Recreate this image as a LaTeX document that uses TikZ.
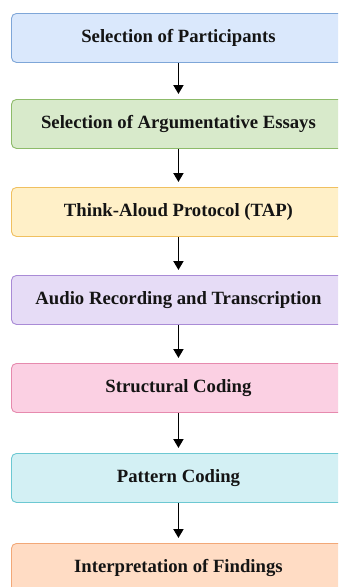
\documentclass[tikz,border=0pt]{standalone}
\usepackage{fontspec}
\setmainfont{Liberation Serif}
\usetikzlibrary{arrows.meta}
\definecolor{f1}{HTML}{DAE8FC}\definecolor{d1}{HTML}{7EA6D8}
\definecolor{f2}{HTML}{D8EACB}\definecolor{d2}{HTML}{8DBB6A}
\definecolor{f3}{HTML}{FFF0C8}\definecolor{d3}{HTML}{F0C060}
\definecolor{f4}{HTML}{E6DCF6}\definecolor{d4}{HTML}{A98BD6}
\definecolor{f5}{HTML}{FBD0E3}\definecolor{d5}{HTML}{E68AAE}
\definecolor{f6}{HTML}{D3F0F4}\definecolor{d6}{HTML}{6CC8D2}
\definecolor{f7}{HTML}{FFDCC4}\definecolor{d7}{HTML}{F2A878}
\tikzset{
  stepbox/.style={draw, line width=0.9pt, rounded corners=5pt, anchor=north west,
    minimum width=334pt, minimum height=49pt, inner sep=0pt,
    font=\fontsize{18.7}{22}\selectfont\bfseries, text=black!92},
  flow/.style={line width=1.9pt, -{Triangle[length=9pt,width=10pt]}, shorten >=5pt}
}
\begin{document}
\begin{tikzpicture}[x=1pt,y=1pt]
\useasboundingbox (0,0) rectangle (338,-587);
\begin{scope}
\clip (0,0) rectangle (338,-587);
\node[stepbox, fill=f1, draw=d1] (a) at (11,-13) {Selection of Participants};
\node[stepbox, fill=f2, draw=d2] (b) at (11,-99) {Selection of Argumentative Essays};
\node[stepbox, fill=f3, draw=d3] (c) at (11,-187) {Think-Aloud Protocol (TAP)};
\node[stepbox, fill=f4, draw=d4] (d) at (11,-275) {Audio Recording and Transcription};
\node[stepbox, fill=f5, draw=d5] (e) at (11,-363) {Structural Coding};
\node[stepbox, fill=f6, draw=d6] (f) at (11,-453) {Pattern Coding};
\node[stepbox, fill=f7, draw=d7] (g) at (11,-543) {Interpretation of Findings};
\foreach \u/\v in {a/b,b/c,c/d,d/e,e/f,f/g}
  \draw[flow] (\u.south) -- (\v.north);
\end{scope}
\end{tikzpicture}
\end{document}
